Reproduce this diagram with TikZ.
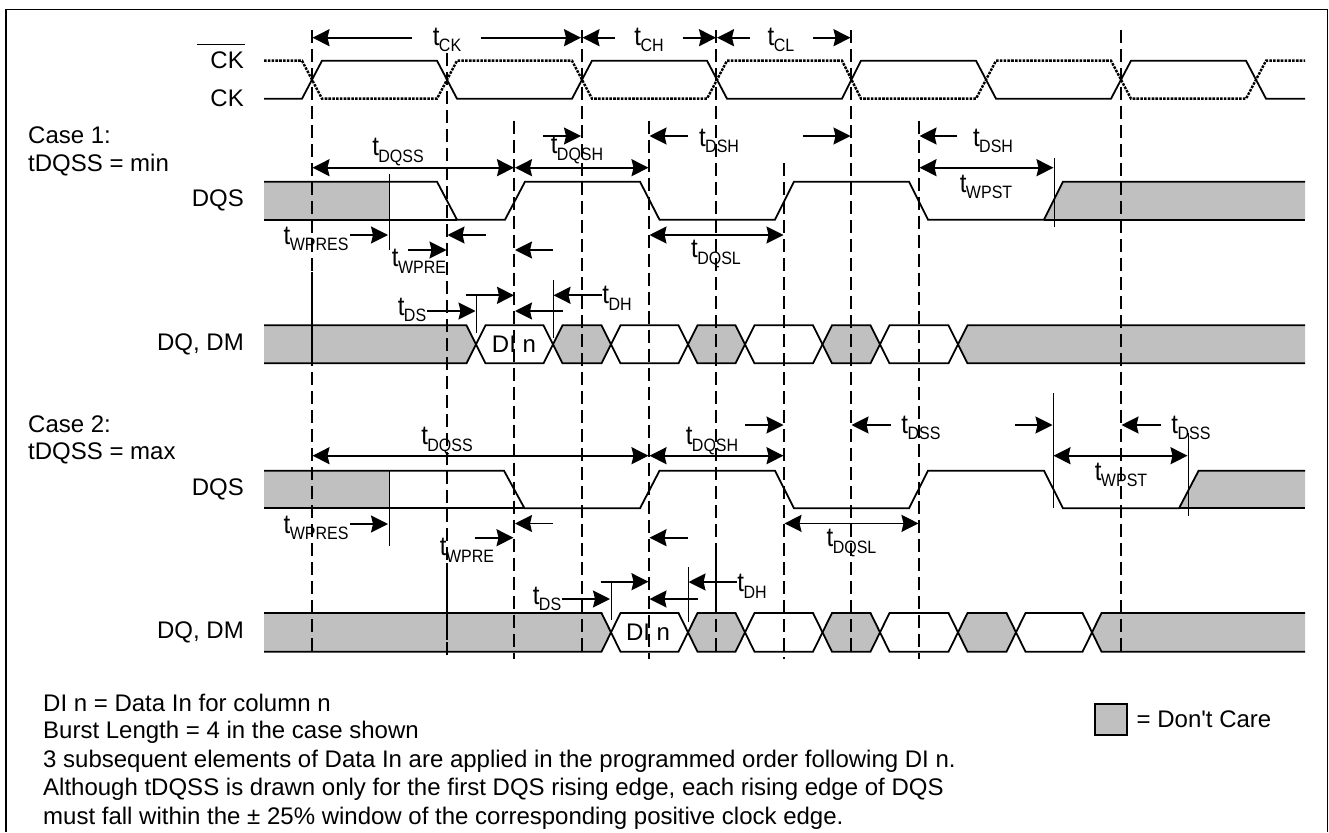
\documentclass[tikz,border=0pt]{standalone}
\usepackage{fontspec}
\setmainfont{Liberation Sans}
\usetikzlibrary{arrows.meta}
\definecolor{dontcare}{RGB}{192,192,192}
\newcommand{\tsig}[1]{\scalebox{1}[1.12]{{\fontsize{24}{24}\selectfont t}\kern-0.5pt\raisebox{-6pt}{\fontsize{16}{16}\selectfont #1}}}
\tikzset{
  wave/.style={line width=1.8pt,line join=miter},
  invwave/.style={line width=2.4pt,dash pattern=on 2.6pt off 1.2pt},
  care/.style={fill=dontcare,draw=none},
  edgeline/.style={line width=1.6pt,dash pattern=on 13pt off 6pt},
  tickline/.style={line width=1pt},
  oneway/.style={line width=1.8pt,-{Stealth[length=17pt,width=17pt,inset=2pt]}},
  twoway/.style={line width=1.8pt,{Stealth[length=17pt,width=17pt,inset=2pt]}-{Stealth[length=17pt,width=17pt,inset=2pt]}},
  txt/.style={inner sep=0pt,font=\fontsize{24}{28}\selectfont},
  sigtxt/.style={txt,anchor=east},
  notetxt/.style={txt,anchor=west},
  tlabel/.style={inner sep=0pt}
}
\begin{document}
\begin{tikzpicture}[x=1pt,y=-1pt]
\useasboundingbox (0,0) rectangle (1329,832);
\draw[line width=1.4pt] (6,832) -- (6,9.5) -- (1327.5,9.5) -- (1327.5,832);
% Don't Care areas
\fill[care] (264,181.7) -- (389,181.7) -- (389,219.7) -- (264,219.7) -- cycle;
\fill[care] (1044,219.7) -- (1063,181.7) -- (1305,181.7) -- (1305,219.7) -- cycle;
\fill[care] (264,470.7) -- (389,470.7) -- (389,508.3) -- (264,508.3) -- cycle;
\fill[care] (1179,508.3) -- (1198.6,470.7) -- (1305,470.7) -- (1305,508.3) -- cycle;
\fill[care] (264,325.3) -- (466.5,325.3) -- (476,344.3) -- (466.5,363.3) -- (264,363.3) -- cycle;
\fill[care] (1305,325.3) -- (967.5,325.3) -- (958,344.3) -- (967.5,363.3) -- (1305,363.3) -- cycle;
\fill[care] (264,613) -- (601.5,613) -- (611,632.4) -- (601.5,651.7) -- (264,651.7) -- cycle;
\fill[care] (1305,613) -- (1101.5,613) -- (1092,632.4) -- (1101.5,651.7) -- (1305,651.7) -- cycle;
% DQ rows, crossing points
\foreach \xa/\xb in {553/611,688/745,823/880}
  \fill[care] (\xa,344.3) -- (\xa+9.5,325.3) -- (\xb-9.5,325.3) -- (\xb,344.3) -- (\xb-9.5,363.3) -- (\xa+9.5,363.3) -- cycle;
\foreach \xa/\xb in {688/745,823/880,958/1016}
  \fill[care] (\xa,632.4) -- (\xa+9.5,613) -- (\xb-9.5,613) -- (\xb,632.4) -- (\xb-9.5,651.7) -- (\xa+9.5,651.7) -- cycle;
% clock pair
\draw[wave] (264,98.7) -- (302,98.7) -- (322,60.7) -- (437,60.7) -- (457,98.7) -- (572,98.7) -- (592,60.7) -- (707,60.7) -- (727,98.7) -- (842,98.7) -- (861,60.7) -- (976,60.7) -- (996,98.7) -- (1111,98.7) -- (1131,60.7) -- (1246,60.7) -- (1266,98.7) -- (1305,98.7);
\draw[invwave] (264,60.7) -- (302,60.7) -- (322,98.7) -- (437,98.7) -- (457,60.7) -- (572,60.7) -- (592,98.7) -- (707,98.7) -- (727,60.7) -- (842,60.7) -- (861,98.7) -- (976,98.7) -- (996,60.7) -- (1111,60.7) -- (1131,98.7) -- (1246,98.7) -- (1266,60.7) -- (1305,60.7);
% DQS case 1
\draw[wave] (264,181.7) -- (437,181.7) -- (457,219.7) -- (505,219.7) -- (525,181.7) -- (640,181.7) -- (659.5,219.7) -- (775,219.7) -- (794,181.7) -- (909,181.7) -- (928,219.7) -- (1044,219.7) -- (1063,181.7) -- (1305,181.7);
\draw[wave] (264,219.7) -- (457,219.7);
\draw[wave] (1044,219.7) -- (1305,219.7);
% DQS case 2
\draw[wave] (264,470.7) -- (504,470.7) -- (524.5,508.3) -- (640,508.3) -- (659.5,470.7) -- (775,470.7) -- (794,508.3) -- (909,508.3) -- (928,470.7) -- (1044,470.7) -- (1063,508.3) -- (1179,508.3) -- (1198.6,470.7) -- (1305,470.7);
\draw[wave] (264,508.3) -- (524.5,508.3);
\draw[wave] (1179,508.3) -- (1305,508.3);
% DQ, DM
\draw[wave] (264,325.3) -- (466.5,325.3) -- (485.5,363.3) -- (543.5,363.3) -- (562.5,325.3) -- (601.5,325.3) -- (620.5,363.3) -- (678.5,363.3) -- (697.5,325.3) -- (735.5,325.3) -- (754.5,363.3) -- (813,363.3) -- (832,325.3) -- (870.5,325.3) -- (889.5,363.3) -- (948.5,363.3) -- (967.5,325.3) -- (1305,325.3);
\draw[wave] (264,363.3) -- (466.5,363.3) -- (485.5,325.3) -- (543.5,325.3) -- (562.5,363.3) -- (601.5,363.3) -- (620.5,325.3) -- (678.5,325.3) -- (697.5,363.3) -- (735.5,363.3) -- (754.5,325.3) -- (813,325.3) -- (832,363.3) -- (870.5,363.3) -- (889.5,325.3) -- (948.5,325.3) -- (967.5,363.3) -- (1305,363.3);
\draw[wave] (264,613) -- (601.5,613) -- (620.5,651.7) -- (678.5,651.7) -- (697.5,613) -- (735.5,613) -- (754.5,651.7) -- (813,651.7) -- (832,613) -- (870.5,613) -- (889.5,651.7) -- (948.5,651.7) -- (967.5,613) -- (1006.5,613) -- (1025.5,651.7) -- (1082.5,651.7) -- (1101.5,613) -- (1305,613);
\draw[wave] (264,651.7) -- (601.5,651.7) -- (620.5,613) -- (678.5,613) -- (697.5,651.7) -- (735.5,651.7) -- (754.5,613) -- (813,613) -- (832,651.7) -- (870.5,651.7) -- (889.5,613) -- (948.5,613) -- (967.5,651.7) -- (1006.5,651.7) -- (1025.5,613) -- (1082.5,613) -- (1101.5,651.7) -- (1305,651.7);
% edge lines
\foreach \x/\ytop/\ybot in {312/30/655,447/53/655,582/30/655,716/30/655,851/30/655,1121/30/655,514/120.7/659,649/120.7/659,784/163/659,919/120.7/659}
  \draw[edgeline] (\x,\ytop) -- (\x,\ybot);
\foreach \x/\ya/\yb in {312/272/363,447/563/640,716/553/613}
  \draw[line width=1.6pt] (\x,\ya) -- (\x,\yb);
% ticks
\foreach \x/\ya/\yb in {389/174/250,1054/158/227,476/295/333,553/280/338,389/470.7/546,1053/393/508,1188/433/516,611/582/620,688/567/622}
  \draw[tickline] (\x,\ya) -- (\x,\yb);
% arrows top
\draw[oneway] (412,37.7) -- (312.5,37.7);
\draw[oneway] (481,37.7) -- (581,37.7);
\draw[oneway] (615,37.7) -- (582.5,37.7);
\draw[oneway] (683,37.7) -- (716,37.7);
\draw[oneway] (750,37.7) -- (717,37.7);
\draw[oneway] (813,37.7) -- (850.5,37.7);
% arrows case 1
\draw[oneway] (543,136) -- (581,136);
\draw[oneway] (688,136) -- (649.5,136);
\draw[oneway] (803,136) -- (850.5,136);
\draw[oneway] (957,136) -- (919.5,136);
\draw[twoway] (312.5,167.7) -- (514,167.7);
\draw[twoway] (515,167.7) -- (648.5,167.7);
\draw[twoway] (919.5,167.7) -- (1053.5,167.7);
\draw[oneway] (350,235) -- (388,235);
\draw[oneway] (486,235) -- (447.5,235);
\draw[oneway] (408,250) -- (446.5,250);
\draw[oneway] (553,250) -- (515,250);
\draw[twoway] (649.5,235) -- (783.5,235);
\draw[oneway] (466,295.3) -- (514,295.3);
\draw[oneway] (427,311) -- (475.5,311);
\draw[oneway] (563,311) -- (515,311);
\draw[oneway] (602,295.3) -- (553.5,295.3);
% arrows case 2
\draw[twoway] (312.5,455.7) -- (648.5,455.7);
\draw[twoway] (649.5,455.7) -- (783.5,455.7);
\draw[oneway] (745,425) -- (783.5,425);
\draw[oneway] (891,425) -- (851.5,425);
\draw[oneway] (1015,425) -- (1052.5,425);
\draw[oneway] (1161,425) -- (1121.5,425);
\draw[twoway] (1053.5,455.7) -- (1187.5,455.7);
\draw[oneway] (350,524) -- (388,524);
\draw[oneway] (553,523.5) -- (515,523.5);
\draw[oneway] (475,537.7) -- (513.5,537.7);
\draw[oneway] (688,537.7) -- (649.5,537.7);
\draw[twoway] (784.5,523.4) -- (918.5,523.4);
\draw[oneway] (600.5,581.7) -- (648.5,581.7);
\draw[oneway] (561.5,599) -- (610,599);
\draw[oneway] (698,599) -- (649.5,599);
\draw[oneway] (737,582) -- (688.5,582);
% timing labels
\node[tlabel] (tck) at (447,40) {\tsig{CK}};
\node[tlabel] (tch) at (649,40) {\tsig{CH}};
\node[tlabel] (tcl) at (781,40) {\tsig{CL}};
\node[tlabel] (dqsh1) at (577,150) {\tsig{DQSH}};
\node[tlabel] (dsh1) at (719,141) {\tsig{DSH}};
\node[tlabel] (dsh2) at (993,141) {\tsig{DSH}};
\node[tlabel] (dqss1) at (398,152) {\tsig{DQSS}};
\node[tlabel] (wpst1) at (986,187) {\tsig{WPST}};
\node[tlabel] (wpres1) at (316,239) {\tsig{WPRES}};
\node[tlabel] (wpre1) at (419,261) {\tsig{WPRE}};
\node[tlabel] (dqsl1) at (716,254) {\tsig{DQSL}};
\node[tlabel] (ds1) at (412,310) {\tsig{DS}};
\node[tlabel] (dh1) at (617,298) {\tsig{DH}};
\node[tlabel] (dqss2) at (447,441) {\tsig{DQSS}};
\node[tlabel] (dqsh2) at (712,441) {\tsig{DQSH}};
\node[tlabel] (dss1) at (921,428) {\tsig{DSS}};
\node[tlabel] (dss2) at (1191,428) {\tsig{DSS}};
\node[tlabel] (wpst2) at (1121,475) {\tsig{WPST}};
\node[tlabel] (wpres2) at (316,528) {\tsig{WPRES}};
\node[tlabel] (wpre2) at (467,550) {\tsig{WPRE}};
\node[tlabel] (dqsl2) at (851.5,543) {\tsig{DQSL}};
\node[tlabel] (ds2) at (547,599) {\tsig{DS}};
\node[tlabel] (dh2) at (752,586) {\tsig{DH}};
% signal names
\node[sigtxt] (ckbar) at (244,60) {CK};
\draw[line width=1pt] (197,45) -- (245,45);
\node[sigtxt] (ck) at (244,98) {CK};
\node[sigtxt] (dqs1) at (244,200) {DQS};
\node[sigtxt] (dq1) at (244,344) {DQ, DM};
\node[sigtxt] (dqs2) at (244,489) {DQS};
\node[sigtxt] (dq2) at (244,632) {DQ, DM};
\node[txt] (din1) at (514,344) {DI n};
\node[txt] (din2) at (648,632) {DI n};
\node[notetxt] (case1) at (28,135) {Case 1:};
\node[notetxt] (min) at (28,165) {tDQSS = min};
\node[notetxt] (case2) at (28,424) {Case 2:};
\node[notetxt] (max) at (28,453) {tDQSS = max};
% notes
\node[notetxt] (n1) at (43,703) {DI n = Data In for column n};
\node[notetxt] (n2) at (43,732) {Burst Length = 4 in the case shown};
\node[notetxt] (n3) at (43,761) {3 subsequent elements of Data In are applied in the programmed order following DI n.};
\node[notetxt] (n4) at (43,789) {Although tDQSS is drawn only for the first DQS rising edge, each rising edge of DQS};
\node[notetxt] (n5) at (43,818) {must fall within the ± 25\% window of the corresponding positive clock edge.};
% legend
\filldraw[fill=dontcare,draw=black,line width=1.4pt] (1095,704) rectangle (1127,735);
\node[notetxt] (dc) at (1136.5,719) {= Don\textquotesingle t Care};
\end{tikzpicture}
\end{document}
